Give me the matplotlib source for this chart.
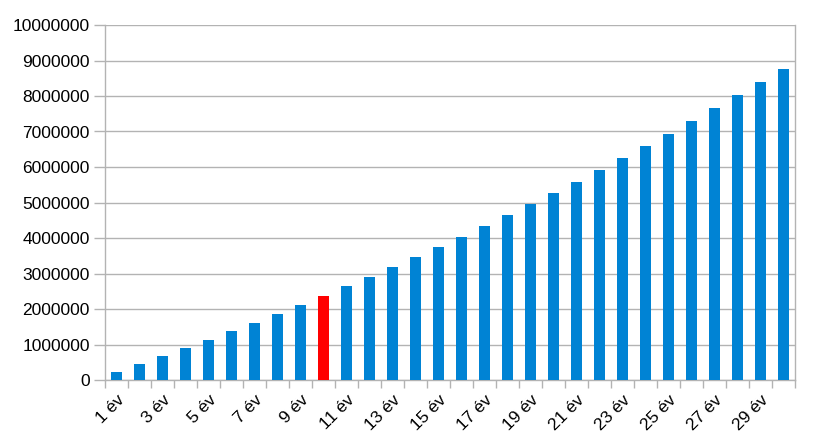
import numpy as np
import matplotlib
matplotlib.use('Agg')
import matplotlib.pyplot as plt
import matplotlib.transforms as mtransforms

plt.rcParams['font.family'] = ['Liberation Sans', 'DejaVu Sans']

# adatok
honapok = [f'{i} év' for i in range(1, 31)]
ertekek = [230000, 450000, 676000, 910000, 1135000, 1370000, 1615000, 1868000,
           2113000, 2375000, 2640000, 2900000, 3180000, 3465000, 3750000,
           4030000, 4340000, 4640000, 4950000, 5260000, 5580000, 5910000,
           6245000, 6580000, 6930000, 7290000, 7650000, 8020000, 8390000, 8770000]
kiemelt = 9  # 10. év piros

szurke = '#b3b3b3'
kek = '#0083d4'

fig = plt.figure(figsize=(8.18, 4.44), dpi=100)
ax = fig.add_axes([105 / 818, 1 - 380 / 444, 690 / 818, 355 / 444])

x = np.arange(len(ertekek))
szinek = [('#ff0000' if i == kiemelt else kek) for i in x]
ax.bar(x, ertekek, width=0.5, color=szinek, zorder=3)

ax.set_xlim(-0.5, len(ertekek) - 0.5)
ax.set_ylim(0, 10000000)
ax.set_yticks(np.arange(0, 10000001, 1000000))
ax.set_yticklabels([str(v) for v in range(0, 10000001, 1000000)])
ax.yaxis.grid(True, color=szurke, linewidth=1, zorder=0)

# x tengely: felirat minden második kategóriánál, osztásjel a határokon
ax.set_xticks(x[::2])
ax.set_xticklabels(honapok[::2], rotation=45, ha='right', va='top',
                   rotation_mode='anchor')
eltolas = mtransforms.ScaledTranslation(4 / 100, 0, fig.dpi_scale_trans)
for lbl in ax.get_xticklabels():
    lbl.set_transform(lbl.get_transform() + eltolas)
ax.set_xticks(np.arange(-0.5, len(ertekek)), minor=True)
ax.tick_params(axis='x', which='major', length=0, pad=9)
ax.tick_params(axis='x', which='minor', length=6, color=szurke, width=1)
ax.tick_params(axis='y', length=8, color=szurke, width=1, pad=3)
ax.tick_params(labelsize=12.5, labelcolor='black')

for s in ax.spines.values():
    s.set_color(szurke)
    s.set_linewidth(1)
ax.spines['top'].set_visible(False)

fig.savefig('out.png', dpi=100)
